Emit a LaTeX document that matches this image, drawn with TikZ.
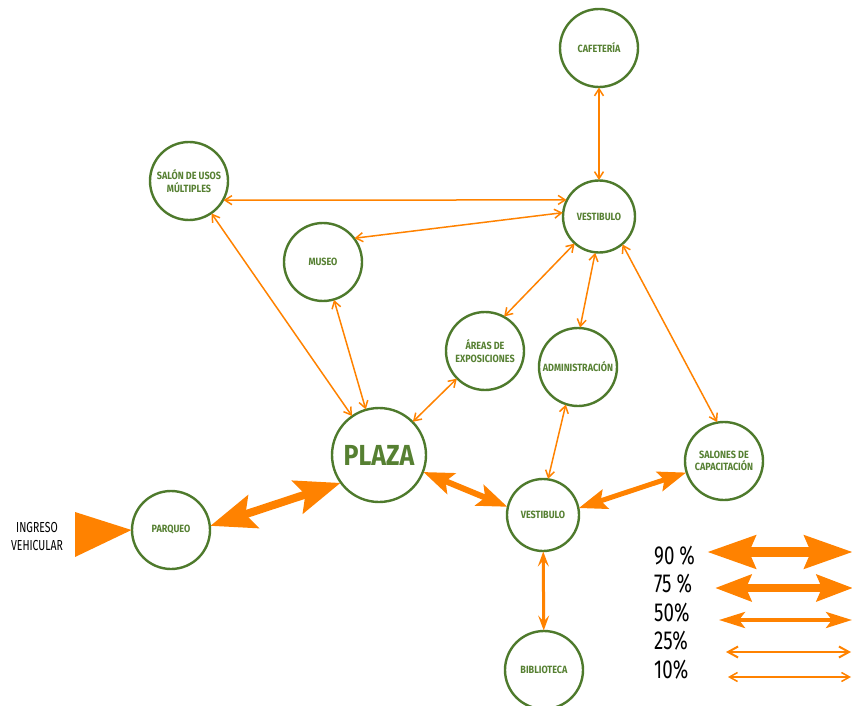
\documentclass[tikz,border=0pt]{standalone}
\usepackage{fontspec}
\newfontfamily\condfont[FakeStretch=0.86]{Fira Sans}
\newfontfamily\legfont[FakeStretch=0.72]{Fira Sans}
\usetikzlibrary{arrows.meta}
\definecolor{grn}{RGB}{78,122,44}
\definecolor{grntxt}{RGB}{86,128,50}
\definecolor{org}{RGB}{255,130,0}
\begin{document}
\begin{tikzpicture}[x=1pt,y=-1pt,
  room/.style={circle, draw=grn, line width=2.4pt, minimum size=78pt, inner sep=0pt, outer sep=0.5pt,
    font=\condfont\bfseries\fontsize{10.5}{12.5}\selectfont, text=grntxt, align=center},
  thinarr/.style={draw=org, line width=1.5pt, {Straight Barb[length=7pt,width=9pt]}-{Straight Barb[length=7pt,width=9pt]}},
  midarr/.style={draw=org, line width=3pt, {Stealth[length=15pt,width=11pt,inset=6pt]}-{Stealth[length=15pt,width=11pt,inset=6pt]}},
  heavyA/.style={draw=org, line width=8pt, {Stealth[length=45pt,width=34pt,inset=8pt]}-{Stealth[length=45pt,width=34pt,inset=8pt]}},
  heavyB/.style={draw=org, line width=6pt, {Stealth[length=30pt,width=22pt,inset=6pt]}-{Stealth[length=30pt,width=22pt,inset=6pt]}},
  heavyC/.style={draw=org, line width=5pt, {Stealth[length=28pt,width=20pt,inset=5pt]}-{Stealth[length=28pt,width=20pt,inset=5pt]}},
  legtext/.style={anchor=west, inner sep=0pt, font=\legfont\fontsize{26}{28}\selectfont, text=black}
]
\useasboundingbox (0,0) rectangle (852,706);

% rooms
\node[room] (caf) at (599,48) {CAFETERÍA};
\node[room] (sal) at (189,181) {SALÓN DE USOS\\MÚLTIPLES};
\node[room, minimum size=72pt] (v1) at (599,216.5) {VESTIBULO};
\node[room] (mus) at (323,262) {MUSEO};
\node[room] (are) at (485,351) {ÁREAS DE\\EXPOSICIONES};
\node[room] (adm) at (578,367) {ADMINISTRACIÓN};
\node[room, minimum size=94pt, font=\condfont\bfseries\fontsize{29}{30}\selectfont] (pla) at (379,455) {PLAZA};
\node[room] (sc) at (724,461) {SALONES DE\\CAPACITACIÓN};
\node[room, minimum size=72pt] (v2) at (543,515) {VESTIBULO};
\node[room] (par) at (171,530) {PARQUEO};
\node[room] (bib) at (544,670) {BIBLIOTECA};

% thin connections
\draw[thinarr] (caf) -- (v1);
\draw[thinarr] (sal.-29) -- (v1.153);
\draw[thinarr] (mus.37) -- (v1.174);
\draw[thinarr] (sal) -- (pla);
\draw[thinarr] (mus) -- (pla);
\draw[thinarr] (are) -- (pla);
\draw[thinarr] (are.61) -- (v1.-132);
\draw[thinarr] (adm.87) -- (v1.-96);
\draw[thinarr] (v1.-50) -- (sc.100);
\draw[thinarr] (adm.-108) -- (v2.82);
\draw[midarr] (v2) -- (bib);

% heavy connections
\draw[heavyA] (par.6) -- (pla.-144);
\draw[heavyB] (pla.-21) -- (v2.167);
\draw[heavyC] (v2.11) -- (sc.-163);

% vehicular entrance
\fill[org] (75,512) -- (par.west) -- (75,557) -- cycle;
\node[inner sep=0pt, align=center, font=\legfont\fontsize{14.5}{18}\selectfont] (ing) at (37,537) {INGRESO\\VEHICULAR};

% legend
\node[legtext] (t90) at (654,556) {90 \%};
\node[legtext] (t75) at (654,584) {75 \%};
\node[legtext] (t50) at (654,613) {50\%};
\node[legtext] (t25) at (654,641) {25\%};
\node[legtext] (t10) at (654,670) {10\%};
\coordinate (a90) at (707,552); \coordinate (b90) at (853,552);
\coordinate (a75) at (715,588); \coordinate (b75) at (853,588);
\coordinate (a50) at (719,620); \coordinate (b50) at (852,620);
\coordinate (a25) at (726,652); \coordinate (b25) at (851,652);
\coordinate (a10) at (728,677); \coordinate (b10) at (851,677);
\draw[draw=org, line width=10pt, {Stealth[length=48pt,width=32pt,inset=6pt]}-{Stealth[length=48pt,width=32pt,inset=6pt]}] (a90) -- (b90);
\draw[draw=org, line width=8pt, {Stealth[length=36pt,width=26pt,inset=5pt]}-{Stealth[length=36pt,width=26pt,inset=5pt]}] (a75) -- (b75);
\draw[draw=org, line width=4pt, {Stealth[length=26pt,width=16pt,inset=6pt]}-{Stealth[length=26pt,width=16pt,inset=6pt]}] (a50) -- (b50);
\draw[draw=org, line width=2pt, {Straight Barb[length=10pt,width=11pt]}-{Straight Barb[length=10pt,width=11pt]}] (a25) -- (b25);
\draw[draw=org, line width=1.5pt, {Straight Barb[length=8pt,width=9pt]}-{Straight Barb[length=8pt,width=9pt]}] (a10) -- (b10);
\end{tikzpicture}
\end{document}
